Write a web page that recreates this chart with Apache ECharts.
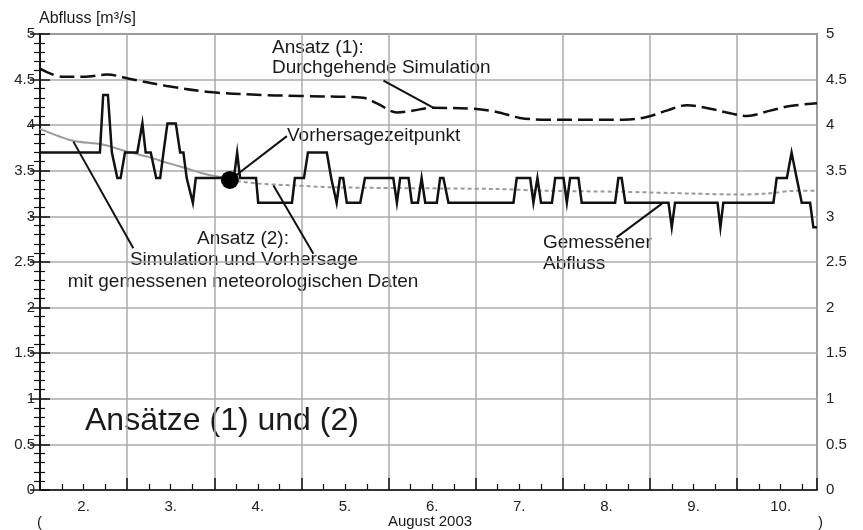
<!DOCTYPE html>
<html>
<head>
<meta charset="utf-8">
<script src="https://cdn.jsdelivr.net/npm/echarts@6/dist/echarts.min.js"></script>
<style>html,body{margin:0;padding:0;background:#fff}#c{width:863px;height:530px}</style>
</head>
<body>
<div id="c"></div>
<script>
// ---- data (hours since 2 Aug 2003 00:00, discharge m³/s) ----
const dayLabels = ['2.', '3.', '4.', '5.', '6.', '7.', '8.', '9.', '10.'];
const yTicks = [0, 0.5, 1, 1.5, 2, 2.5, 3, 3.5, 4, 4.5, 5];

const measuredHours = [0,16.5,17.4,18.7,19.8,21.3,22.2,23.4,26.8,28.2,29.1,30.5,32.0,33.1,34.0,35.1,37.4,38.6,39.5,40.4,42.1,42.9,53.4,54.3,55.1,59.5,60.1,69.4,70.2,72.7,73.8,79.0,80.2,80.7,81.7,82.6,83.5,84.5,88.2,89.5,97.3,98.3,99.2,101.5,102.4,104.1,105.1,106.1,109.3,110.2,111.1,112.5,130.4,131.3,135.0,135.9,137.0,138.0,141.0,141.9,144.2,145.1,146.0,148.3,149.2,158.4,159.3,160.2,161.2,173.1,174.0,174.9,186.6,187.4,188.2,202.0,202.9,205.7,207.0,208.4,208.8,209.8,212.1,213.0,214.0];
const measuredValues = [3.70,3.70,4.33,4.33,3.70,3.42,3.42,3.70,3.70,4.02,3.70,3.70,3.42,3.42,3.70,4.02,4.02,3.70,3.70,3.42,3.15,3.42,3.42,3.70,3.42,3.42,3.15,3.15,3.42,3.42,3.70,3.70,3.42,3.42,3.15,3.42,3.42,3.15,3.15,3.42,3.42,3.15,3.42,3.42,3.15,3.15,3.42,3.15,3.15,3.42,3.42,3.15,3.15,3.42,3.42,3.15,3.42,3.15,3.15,3.42,3.42,3.15,3.42,3.42,3.15,3.15,3.42,3.42,3.15,3.15,2.88,3.15,3.15,2.88,3.15,3.15,3.42,3.42,3.70,3.42,3.42,3.15,3.15,2.88,2.88];

const sim1Hours = [0,6.3,12,18.4,25.6,34.9,47.7,62.5,71.6,89.0,92.8,98.3,102.8,107.4,119.3,125.8,132.2,139.6,160.7,167.1,172.6,178.2,184.6,190.1,194.7,201.1,206.6,214];
const sim1Values = [4.62,4.53,4.53,4.555,4.50,4.43,4.36,4.33,4.32,4.30,4.24,4.14,4.16,4.19,4.18,4.145,4.08,4.06,4.06,4.09,4.16,4.22,4.18,4.13,4.10,4.16,4.21,4.24];

const sim2Hours = [0,9,17,24,30,34,40,46,50,52.3];
const sim2Values = [3.96,3.83,3.79,3.71,3.65,3.60,3.53,3.46,3.43,3.40];

const forecastHours = [52.3,60,70,80,100,126,140,160,180,192,200,208,214];
const forecastValues = [3.40,3.36,3.34,3.32,3.31,3.30,3.28,3.27,3.25,3.24,3.25,3.28,3.28];

const forecastPoint = [52.3, 3.40];

// annotation leader lines (data coordinates: [hour, value] -> [hour, value])
const leaderLines = [
  [[94.6, 4.49], [108.4, 4.19]],
  [[52.3, 3.40], [68.0, 3.88]],
  [[9.2, 3.82], [25.7, 2.65]],
  [[64.3, 3.34], [75.3, 2.59]],
  [[171.3, 3.14], [158.8, 2.77]]
];

const texts = {
  yName: 'Abfluss [m³/s]',
  a1: 'Ansatz (1):',
  a1b: 'Durchgehende Simulation',
  vz: 'Vorhersagezeitpunkt',
  a2: 'Ansatz (2):',
  a2b: 'Simulation und Vorhersage',
  a2c: 'mit gemessenen meteorologischen Daten',
  gm1: 'Gemessener',
  gm2: 'Abfluss',
  big: 'Ansätze (1) und (2)',
  xName: 'August 2003'
};

const zip = (a, b) => a.map((v, i) => [v, b[i]]);

const FONT = '"Liberation Sans", Arial, sans-serif';
const chart = echarts.init(document.getElementById('c'), null, {renderer: 'canvas'});

function txt(x, y, s, size, align) {
  return {
    type: 'text', x: x, y: y, silent: true,
    style: {
      text: s, font: size + 'px ' + FONT, fill: '#1a1a1a',
      align: align || 'left', verticalAlign: 'middle',
      textAlign: align || 'left', textVerticalAlign: 'middle'
    }
  };
}

const gridCol = '#ababab';
const XMAX = 214;

chart.setOption({
  animation: false,
  backgroundColor: '#fff',
  grid: {left: 40, right: 46, top: 34, bottom: 40, show: true, borderColor: '#444', borderWidth: 1.5},
  xAxis: [
    {
      type: 'value', min: 0, max: XMAX, interval: 24,
      axisLine: {show: true, onZero: false, lineStyle: {color: '#111', width: 1.5}},
      axisTick: {show: true, inside: true, length: 12, lineStyle: {color: '#111', width: 1.5}},
      minorTick: {show: true, splitNumber: 4, length: 6, lineStyle: {color: '#111', width: 1.2}},
      axisLabel: {show: false},
      splitLine: {show: true, lineStyle: {color: gridCol, width: 1.5}}
    },
    {
      type: 'value', min: 0, max: XMAX, position: 'bottom',
      axisLine: {show: false}, axisTick: {show: false}, splitLine: {show: false},
      axisLabel: {
        show: true, margin: 9, fontSize: 15, fontFamily: FONT, color: '#222',
        customValues: dayLabels.map((d, i) => i * 24 + 12),
        formatter: v => dayLabels[Math.round((v - 12) / 24)]
      }
    }
  ],
  yAxis: [
    {
      type: 'value', min: 0, max: 5, interval: 0.5, position: 'left',
      name: texts.yName, nameLocation: 'end', nameGap: 6,
      nameTextStyle: {align: 'left', verticalAlign: 'bottom', fontSize: 16, fontFamily: FONT, color: '#1a1a1a', padding: [0, 0, 0, -1]},
      axisLine: {show: true, lineStyle: {color: '#111', width: 1.5}},
      axisTick: {show: true, inside: true, length: 10, lineStyle: {color: '#111', width: 1.5}},
      minorTick: {show: true, splitNumber: 5, length: 5, lineStyle: {color: '#111', width: 1.2}},
      axisLabel: {margin: 5, fontSize: 15, fontFamily: FONT, color: '#222', customValues: yTicks},
      splitLine: {show: true, lineStyle: {color: gridCol, width: 1.5}}
    },
    {
      type: 'value', min: 0, max: 5, interval: 0.5, position: 'right',
      axisLine: {show: true, lineStyle: {color: '#111', width: 1.5}},
      axisTick: {show: true, inside: true, length: 10, lineStyle: {color: '#111', width: 1.5}},
      minorTick: {show: true, splitNumber: 5, length: 6, lineStyle: {color: '#111', width: 1.2}},
      axisLabel: {margin: 9, fontSize: 15, fontFamily: FONT, color: '#222'},
      splitLine: {show: false}
    }
  ],
  series: [
    {
      name: 'Simulation (1)', type: 'line', data: zip(sim1Hours, sim1Values),
      showSymbol: false, smooth: 0.35, z: 3,
      lineStyle: {color: '#111', width: 2.5, type: [15, 6]}
    },
    {
      name: 'Simulation (2)', type: 'line', data: zip(sim2Hours, sim2Values),
      showSymbol: false, smooth: 0.3, z: 2,
      lineStyle: {color: '#9a9a9a', width: 2}
    },
    {
      name: 'Vorhersage', type: 'line', data: zip(forecastHours, forecastValues),
      showSymbol: false, smooth: 0.3, z: 2,
      lineStyle: {color: '#9a9a9a', width: 2, type: [4, 3]}
    },
    {
      name: 'Gemessen', type: 'line', data: zip(measuredHours, measuredValues),
      showSymbol: false, z: 4,
      lineStyle: {color: '#111', width: 2.5, join: 'miter'},
      markLine: {
        silent: true, symbol: ['none', 'none'], animation: false,
        label: {show: false},
        lineStyle: {color: '#111', width: 2, type: 'solid'},
        data: leaderLines.map(l => [{coord: l[0]}, {coord: l[1]}])
      }
    },
    {
      name: 'Vorhersagezeitpunkt', type: 'scatter', data: [forecastPoint],
      symbol: 'circle', symbolSize: 18, z: 6,
      itemStyle: {color: '#000', opacity: 1}
    }
  ],
  graphic: [
    txt(272, 48, texts.a1, 19),
    txt(272, 68, texts.a1b, 19),
    txt(287, 136, texts.vz, 19),
    txt(243, 239, texts.a2, 19, 'center'),
    txt(244, 260, texts.a2b, 19, 'center'),
    txt(243, 282, texts.a2c, 19, 'center'),
    txt(543, 243, texts.gm1, 19),
    txt(543, 264, texts.gm2, 19),
    txt(85, 421, texts.big, 32),
    txt(430, 522, texts.xName, 15, 'center'),
    txt(37, 523, '(', 15),
    txt(818, 523, ')', 15)
  ]
});
</script>
</body>
</html>
